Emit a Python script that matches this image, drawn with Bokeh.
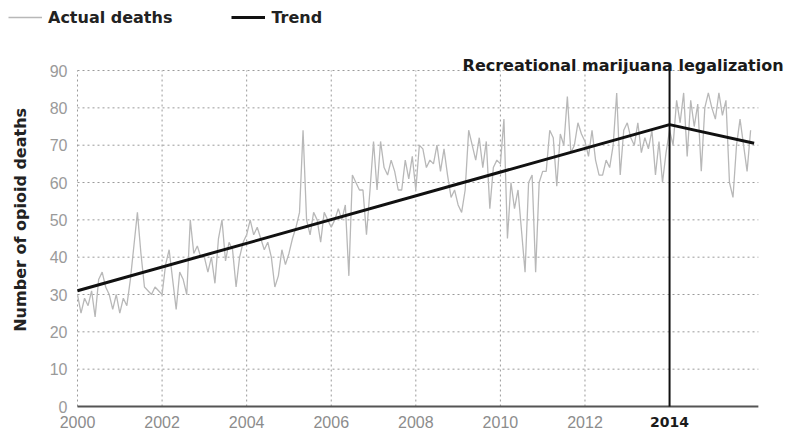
import math
from bokeh.plotting import figure
from bokeh.models import Legend, LegendItem, Range1d
from bokeh.core.properties import value
from bokeh.embed import file_html
from bokeh.resources import INLINE

# ---- data -------------------------------------------------------------
start_year = 2000
deaths = [
    30, 25, 29, 27, 31, 24, 34, 36, 32, 30, 26, 30,   # 2000
    25, 29, 27, 34, 43, 52, 41, 32, 31, 30, 32, 31,   # 2001
    30, 38, 42, 34, 26, 36, 34, 30, 50, 41, 43, 40,   # 2002
    40, 36, 40, 33, 45, 50, 39, 44, 42, 32, 40, 44,   # 2003
    46, 50, 46, 48, 45, 42, 44, 40, 32, 35, 42, 38,   # 2004
    41, 45, 48, 52, 74, 50, 46, 52, 50, 44, 52, 50,   # 2005
    48, 50, 53, 50, 54, 35, 62, 60, 58, 58, 46, 58,   # 2006
    71, 58, 71, 64, 62, 66, 63, 58, 58, 66, 61, 67,   # 2007
    58, 70, 69, 64, 66, 65, 70, 63, 69, 62, 56, 58,   # 2008
    54, 52, 58, 74, 70, 66, 72, 64, 71, 53, 64, 66,   # 2009
    65, 77, 45, 60, 53, 58, 47, 36, 60, 62, 36, 60,   # 2010
    63, 63, 74, 72, 59, 73, 70, 83, 68, 70, 76, 73,   # 2011
    71, 67, 74, 66, 62, 62, 66, 64, 70, 84, 62, 74,   # 2012
    76, 72, 70, 76, 68, 72, 69, 74, 62, 71, 60, 68,   # 2013
    74, 70, 82, 76, 84, 67, 82, 75, 81, 63, 80, 84,   # 2014
    80, 77, 84, 78, 82, 60, 56, 70, 77, 70, 63, 74,   # 2015
]
months = [start_year + i / 12 for i in range(len(deaths))]

trend_x = [2000, 2014, 2016]
trend_y = [31, 75.5, 70.5]

legalization_year = 2014
legalization_text = "Recreational marijuana legalization"

x_ticks = [2000, 2002, 2004, 2006, 2008, 2010, 2012, 2014]
x_labels = ["2000", "2002", "2004", "2006", "2008", "2010", "2012", "2014"]
y_ticks = [0, 10, 20, 30, 40, 50, 60, 70, 80, 90]
y_labels = ["0", "10", "20", "30", "40", "50", "60", "70", "80", "90"]
y_title = "Number of opioid deaths"

# ---- geometry ---------------------------------------------------------
W, H = 786, 434
X0_PX, PX_PER_YEAR = 77, 42.29          # where 2000 sits, horizontal scale
Y0_PX, PX_PER_UNIT = 406, 3.733         # where 0 sits, vertical scale
x_start = 2000 - X0_PX / PX_PER_YEAR
x_end = 2000 + (W - X0_PX) / PX_PER_YEAR
y_start = -(H - Y0_PX) / PX_PER_UNIT
y_end = Y0_PX / PX_PER_UNIT
x_axis_end = 2016.1
y_grid_top = 90
marker_top = 91.6

p = figure(width=W, height=H, output_backend="svg", toolbar_location=None,
           x_range=Range1d(x_start, x_end), y_range=Range1d(y_start, y_end),
           min_border_left=0, min_border_right=0, min_border_top=0,
           min_border_bottom=0)
p.outline_line_color = None
p.background_fill_color = "white"
p.xaxis.visible = False
p.yaxis.visible = False
p.xgrid.visible = False
p.ygrid.visible = False

grid_color = "#9a9a9a"
# horizontal dotted grid
hg = y_ticks[1:]
p.segment(x0=[x_ticks[0]] * len(hg), y0=hg, x1=[x_axis_end] * len(hg), y1=hg,
          line_color=grid_color, line_dash="2 3", line_width=1)
# vertical dotted grid (not at the legalization year, which gets a solid line)
vg = x_ticks[:-1]
p.segment(x0=vg, y0=[0] * len(vg), x1=vg, y1=[y_grid_top] * len(vg),
          line_color=grid_color, line_dash="2 3", line_width=1)

# x axis line
p.segment(x0=[x_ticks[0]], y0=[0], x1=[x_axis_end], y1=[0],
          line_color="#555555", line_width=2)

# ---- data lines -------------------------------------------------------
actual = p.line(months, deaths, line_color="#b8b8b8", line_width=1.3)
trend = p.line(trend_x, trend_y, line_color="#111111", line_width=3)

# legalization marker
p.segment(x0=[legalization_year], y0=[0], x1=[legalization_year], y1=[marker_top],
          line_color="#111111", line_width=2)
p.text(x=[legalization_year], y=[y_grid_top], text=[legalization_text],
       x_offset=-207, y_offset=-5, text_align="left", text_baseline="alphabetic",
       text_font=value("DejaVu Sans"), text_font_style="bold",
       text_font_size="16px", text_color="#1a1a1a")

# ---- tick labels ------------------------------------------------------
p.text(x=x_ticks[:-1], y=[0] * (len(x_ticks) - 1), text=x_labels[:-1],
       y_offset=15, text_align="center", text_baseline="middle",
       text_font=value("Liberation Sans"), text_font_size="16px",
       text_color="#8c8c8c")
p.text(x=[x_ticks[-1]], y=[0], text=[x_labels[-1]],
       y_offset=15, text_align="center", text_baseline="middle",
       text_font=value("DejaVu Sans"), text_font_style="bold",
       text_font_size="14px", text_color="#1a1a1a")
p.text(x=[x_ticks[0]] * len(y_ticks), y=y_ticks, text=y_labels,
       x_offset=-10, text_align="right", text_baseline="middle",
       text_font=value("Liberation Sans"), text_font_size="16px",
       text_color="#9a9a9a")
p.text(x=[x_ticks[0]], y=[50], text=[y_title], angle=math.pi / 2,
       x_offset=-57, text_align="center", text_baseline="middle",
       text_font=value("DejaVu Sans"), text_font_style="bold",
       text_font_size="16px", text_color="#222222")

# ---- legend -----------------------------------------------------------
legend = Legend(items=[LegendItem(label="Actual deaths", renderers=[actual]),
                       LegendItem(label="Trend", renderers=[trend])],
                orientation="horizontal", location=(8, H - 27),
                background_fill_alpha=0, border_line_color=None,
                padding=0, margin=0, spacing=59, glyph_width=34,
                label_standoff=6, label_text_font="DejaVu Sans",
                label_text_font_style="bold", label_text_font_size="16px",
                label_text_color="#222222")
p.add_layout(legend, "center")

open("out.html", "w").write(file_html(p, INLINE))
